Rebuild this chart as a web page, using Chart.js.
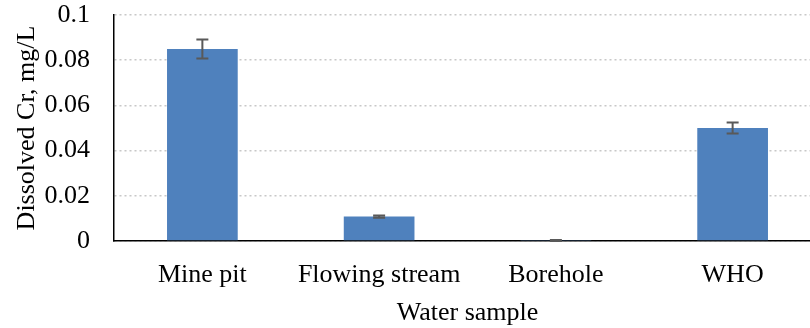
<!DOCTYPE html>
<html><head><meta charset="utf-8">
<script src="https://cdn.jsdelivr.net/npm/chart.js@4"></script>
<style>
html,body{margin:0;padding:0;background:#fff;overflow:hidden;}
#wrap{width:821px;height:328px;position:relative;}
</style></head>
<body><div id="wrap"><canvas id="c"></canvas></div>
<script>
const categories = ["Mine pit", "Flowing stream", "Borehole", "WHO"];
const crValues = [0.085, 0.0108, 0.0002, 0.050];
const crErrors = [0.0042, 0.0005, 0.0002, 0.0024];
const yTicks = [0, 0.02, 0.04, 0.06, 0.08, 0.1];

const errorBars = {
  id: 'errorBars',
  afterDatasetsDraw(chart) {
    const ctx = chart.ctx, y = chart.scales.y;
    const meta = chart.getDatasetMeta(0);
    ctx.save();
    ctx.strokeStyle = '#595959';
    ctx.lineWidth = 2;
    meta.data.forEach((bar, i) => {
      const v = crValues[i], e = crErrors[i];
      const yt = y.getPixelForValue(v + e), yb = y.getPixelForValue(v - e);
      const x = bar.x;
      ctx.beginPath();
      ctx.moveTo(x, yt); ctx.lineTo(x, yb);
      ctx.moveTo(x - 6, yt); ctx.lineTo(x + 6, yt);
      ctx.moveTo(x - 6, yb); ctx.lineTo(x + 6, yb);
      ctx.stroke();
    });
    ctx.restore();
  }
};

const fontSpec = { family: 'Liberation Serif', size: 26 };

new Chart(document.getElementById('c'), {
  type: 'bar',
  data: {
    labels: categories,
    datasets: [{
      data: crValues,
      backgroundColor: '#4F81BD',
      categoryPercentage: 1.0,
      barPercentage: 0.4
    }]
  },
  options: {
    responsive: true,
    maintainAspectRatio: false,
    animation: false,
    layout: { padding: 0 },
    plugins: { legend: { display: false }, tooltip: { enabled: false } },
    scales: {
      x: {
        afterFit(scale) { scale.height = 87; },
        grid: { display: false, drawTicks: false },
        border: { display: true, color: '#000', width: 1.5 },
        ticks: { color: '#000', font: fontSpec, padding: 19, maxRotation: 0, minRotation: 0, autoSkip: false },
        title: { display: true, text: 'Water sample', color: '#000', font: fontSpec, padding: { top: 0, bottom: -1 } }
      },
      y: {
        min: 0, max: 0.1,
        afterFit(scale) { scale.width = 114; scale.paddingTop = 15; scale.paddingBottom = 0; },
        afterBuildTicks(axis) { axis.ticks = yTicks.map(v => ({ value: v })); },
        grid: { color: '#c8c8c8', lineWidth: 1.5, drawTicks: false },
        border: { display: true, color: '#000', width: 1.5, dash: [2, 3] },
        ticks: {
          color: '#000', font: fontSpec, padding: 24,
          callback: (v) => String(parseFloat(Number(v).toFixed(2)))
        },
        title: { display: true, text: 'Dissolved Cr, mg/L', color: '#000', font: fontSpec, padding: { top: 12, bottom: 0 } }
      }
    }
  },
  plugins: [errorBars]
});
</script></body></html>
